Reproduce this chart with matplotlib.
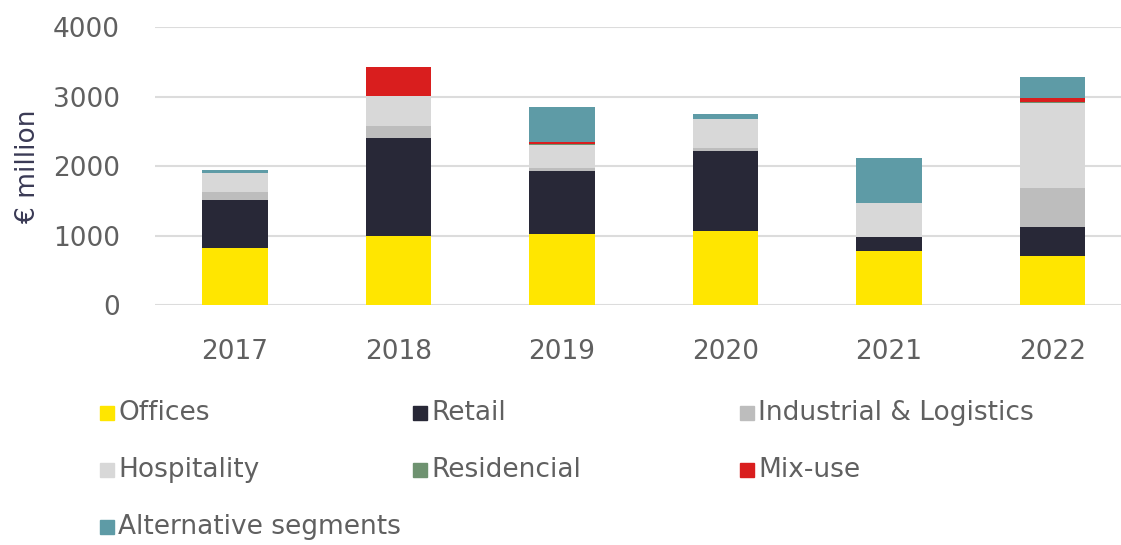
import matplotlib
matplotlib.use("Agg")
import matplotlib.pyplot as plt
from matplotlib.patches import Rectangle
import numpy as np

years = ["2017", "2018", "2019", "2020", "2021", "2022"]

offices = [817, 996, 1020, 1068, 779, 707]
retail = [698, 1409, 914, 1144, 198, 423]
industrial = [120, 167, 40, 48, 0, 553]
hospitality = [270, 433, 330, 424, 490, 1227]
residencial = [0, 0, 15, 0, 0, 15]
mix_use = [0, 420, 30, 0, 0, 55]
alternative = [45, 0, 503, 68, 650, 303]

segments = ["Offices", "Retail", "Industrial & Logistics", "Hospitality",
            "Residencial", "Mix-use", "Alternative segments"]
colors = ["#FFE600", "#282837", "#BDBDBD", "#D8D8D8",
          "#6E9270", "#D91E1E", "#5E9BA6"]
series = [offices, retail, industrial, hospitality,
          residencial, mix_use, alternative]

plt.rcParams["font.family"] = ["DejaVu Sans"]
txt_color = "#606060"

fig = plt.figure(figsize=(11.21, 5.45), dpi=100)
ax = fig.add_axes([0.138, 0.440, 0.862, 0.510])

x = np.arange(len(years))
bottom = np.zeros(len(years))
for vals, col in zip(series, colors):
    ax.bar(x, vals, width=0.4, bottom=bottom, color=col, zorder=3)
    bottom += np.array(vals)

ax.set_ylim(0, 4000)
ax.set_xlim(-0.49, 5.42)
ax.set_yticks([0, 1000, 2000, 3000, 4000])
ax.yaxis.grid(True, color="#dcdcdc", linewidth=1.5, zorder=0)
ax.set_xticks(x)
ax.set_xticklabels(years)
for s in ax.spines.values():
    s.set_visible(False)
ax.tick_params(axis="both", length=0, labelsize=19, labelcolor=txt_color)
ax.tick_params(axis="y", pad=25)
ax.tick_params(axis="x", pad=24)
ax.set_ylabel("€ million", fontsize=19, color="#3a3a55")
ax.yaxis.set_label_coords(-0.118, 0.5)

# legend laid out in three columns, filled row by row
col_x = [100, 413, 740]
row_y = [413, 470, 527]
W, H = 1121, 545
for i, (name, col) in enumerate(zip(segments, colors)):
    cx = col_x[i % 3]
    cy = row_y[i // 3]
    fig.add_artist(Rectangle((cx / W, 1 - (cy + 7) / H), 14 / W, 14 / H,
                             transform=fig.transFigure, color=col))
    fig.text((cx + 18) / W, 1 - cy / H, name, fontsize=19,
             color=txt_color, va="center", ha="left")

fig.savefig("out.png", dpi=100)
